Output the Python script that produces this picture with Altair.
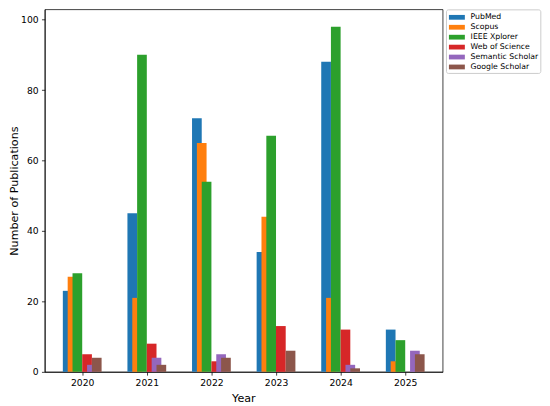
import altair as alt
import pandas as pd

years = [2020, 2021, 2022, 2023, 2024, 2025]
series = ["PubMed", "Scopus", "IEEE Xplorer", "Web of Science", "Semantic Scholar", "Google Scholar"]
pubmed = [23, 45, 72, 34, 88, 12]
scopus = [27, 21, 65, 44, 21, 3]
ieee = [28, 90, 54, 67, 98, 9]
wos = [5, 8, 3, 13, 12, 0]
semantic = [2, 4, 5, 0, 2, 6]
google = [4, 2, 4, 6, 1, 5]
colors = ["#1f77b4", "#ff7f0e", "#2ca02c", "#d62728", "#9467bd", "#8c564b"]

values = [pubmed, scopus, ieee, wos, semantic, google]
rows = []
for si, (name, vals) in enumerate(zip(series, values)):
    for y, v in zip(years, vals):
        rows.append({"year": y, "source": name, "si": si, "count": v})
df = pd.DataFrame(rows)

# bar start offsets (in year units) and bar width
offsets = "[-0.3, -0.225, -0.15, 0, 0.075, 0.15]"
bar_w = 0.15

FONT = "DejaVu Sans"

chart = alt.Chart(df).transform_calculate(
    x0=f"datum.year + {offsets}[datum.si]",
).transform_calculate(
    x1=f"datum.x0 + {bar_w}",
).mark_bar(stroke=None).encode(
    x=alt.X("x0:Q",
            scale=alt.Scale(domain=[2019.42, 2025.58], nice=False, zero=False),
            axis=alt.Axis(values=years, format="d", title="Year", grid=False,
                          titleX=200, titleY=26.5, titleBaseline="middle")),
    x2="x1:Q",
    y=alt.Y("count:Q",
            scale=alt.Scale(domain=[0, 102.9], nice=False),
            axis=alt.Axis(values=[0, 20, 40, 60, 80, 100], title="Number of Publications",
                          grid=False, titleX=-30, titleY=182.5, titleBaseline="middle")),
    y2=alt.datum(0),
    color=alt.Color("source:N",
                    scale=alt.Scale(domain=series, range=colors),
                    legend=alt.Legend(title=None, orient="none", legendX=404, legendY=0,
                                      strokeColor="#cccccc", fillColor="white",
                                      cornerRadius=2, padding=2,
                                      labelFont=FONT, labelFontSize=7.8, labelColor="black",
                                      symbolType="M-1.37,-0.41H1.37V0.41H-1.37Z",
                                      symbolSize=137, symbolStrokeWidth=0,
                                      symbolOffset=3, rowPadding=0, labelOffset=7.8)),
).properties(
    width=400.7,
    height=365,
    autosize=alt.AutoSizeParams(type="none"),
    padding={"left": 37, "top": 0, "right": 100, "bottom": 33},
).configure_view(
    stroke="black", strokeWidth=0.75
).configure_axis(
    labelFont=FONT, labelFontSize=9.3, labelColor="black",
    titleFont=FONT, titleFontSize=11.2, titleFontWeight="normal", titleColor="black",
    tickColor="black", tickSize=3.3, tickWidth=0.75,
    domainColor="black", domainWidth=0.75, labelPadding=3.3,
)

chart.save("out.html", embed_options={"renderer": "svg", "actions": False})
